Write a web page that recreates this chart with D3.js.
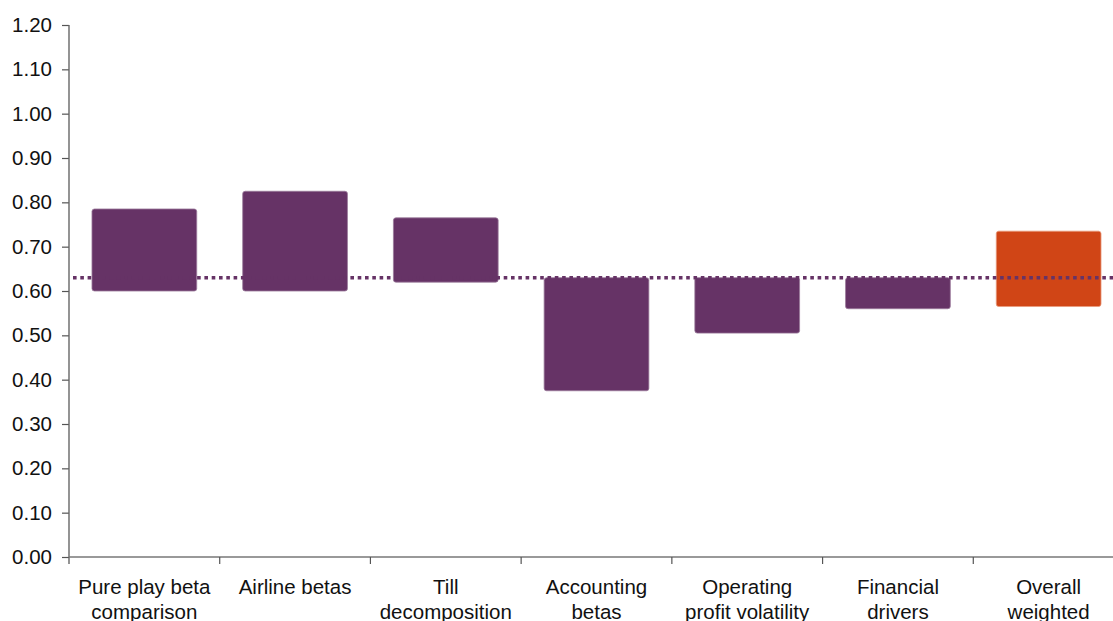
<!DOCTYPE html>
<html>
<head>
<meta charset="utf-8">
<script src="https://cdn.jsdelivr.net/npm/d3@7"></script>
<style>
  html, body { margin: 0; padding: 0; background: #fff; }
  svg { display: block; font-family: "Liberation Sans", Arial, sans-serif; }
</style>
</head>
<body>
<svg id="chart" width="1113" height="621"></svg>
<script>
// Beta estimates by method: each bar spans a low-high range
const categories = [
  ["Pure play beta", "comparison"],
  ["Airline betas"],
  ["Till", "decomposition"],
  ["Accounting", "betas"],
  ["Operating", "profit volatility"],
  ["Financial", "drivers"],
  ["Overall", "weighted"]
];
const lowValues  = [0.60, 0.60, 0.62, 0.375, 0.505, 0.56, 0.565];
const highValues = [0.785, 0.825, 0.765, 0.63, 0.63, 0.63, 0.735];
const referenceValue = 0.63;
const yTicks = [0, 0.1, 0.2, 0.3, 0.4, 0.5, 0.6, 0.7, 0.8, 0.9, 1.0, 1.1, 1.2];

const purple = "#663366";
const orange = "#D04516";

const svg = d3.select("#chart");
const plotLeft = 69, plotRight = 1124, plotTop = 25, plotBottom = 557;

const keys = categories.map((c, i) => i);
const x = d3.scaleBand()
  .domain(keys)
  .range([plotLeft, plotRight])
  .paddingInner(0.305)
  .paddingOuter(0.1525);
const step = x.step();

const y = d3.scaleLinear().domain([0, 1.2]).range([plotBottom, plotTop]);

// Y axis
const yAxis = svg.append("g")
  .attr("transform", `translate(${plotLeft},0)`)
  .call(d3.axisLeft(y).tickValues(yTicks).tickFormat(d3.format(".2f")).tickSize(7).tickPadding(10));
yAxis.select(".domain").remove();
yAxis.selectAll(".tick line").attr("stroke", "#555").attr("stroke-width", 1.2);
yAxis.selectAll(".tick text").attr("font-size", 20.5).attr("fill", "#111")
  .attr("font-family", "Liberation Sans, Arial, sans-serif");
svg.append("line")
  .attr("x1", plotLeft).attr("x2", plotLeft)
  .attr("y1", plotTop).attr("y2", plotBottom + 7)
  .attr("stroke", "#666").attr("stroke-width", 1.4);

// X axis baseline and tick marks at category boundaries
svg.append("line")
  .attr("x1", plotLeft).attr("x2", plotRight)
  .attr("y1", plotBottom).attr("y2", plotBottom)
  .attr("stroke", "#777").attr("stroke-width", 1.6);
const boundaries = keys.map(k => x(k) - x.paddingInner() * step / 2).concat([plotRight]);
svg.append("g").selectAll("line")
  .data(boundaries.slice(1))
  .join("line")
  .attr("x1", d => d).attr("x2", d => d)
  .attr("y1", plotBottom).attr("y2", plotBottom + 7)
  .attr("stroke", "#555").attr("stroke-width", 1.2);

// Floating range bars
svg.append("g").selectAll("rect")
  .data(keys)
  .join("rect")
  .attr("x", k => x(k))
  .attr("width", x.bandwidth())
  .attr("y", k => y(highValues[k]))
  .attr("height", k => y(lowValues[k]) - y(highValues[k]))
  .attr("rx", 2.5)
  .attr("fill", k => k === keys.length - 1 ? orange : purple)
  .attr("stroke", k => k === keys.length - 1 ? "#e89a7c" : "#9a7a9a")
  .attr("stroke-width", 0.8);

// Reference level (dotted)
svg.append("line")
  .attr("x1", plotLeft + 4).attr("x2", plotRight)
  .attr("y1", y(referenceValue)).attr("y2", y(referenceValue))
  .attr("stroke", purple)
  .attr("stroke-width", 3.5)
  .attr("stroke-dasharray", "3.6 3.7");

// Category labels
const labels = svg.append("g").selectAll("text")
  .data(keys)
  .join("text")
  .attr("x", k => x(k) + x.bandwidth() / 2)
  .attr("y", 594)
  .attr("text-anchor", "middle")
  .attr("font-size", 20.5)
  .attr("fill", "#111");
labels.selectAll("tspan")
  .data(k => categories[k])
  .join("tspan")
  .attr("x", function() { return this.parentNode.getAttribute("x"); })
  .attr("dy", (d, i) => i === 0 ? 0 : 25)
  .text(d => d);
</script>
</body>
</html>
